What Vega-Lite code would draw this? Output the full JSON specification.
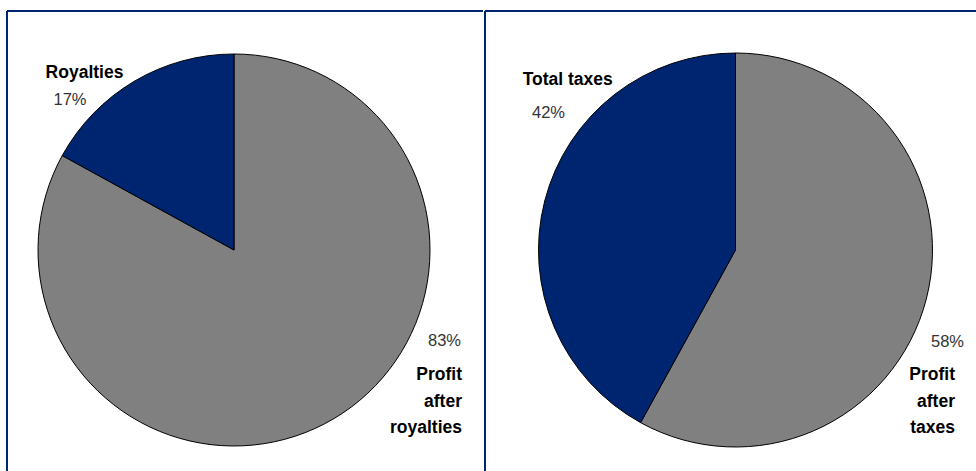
{
  "$schema": "https://vega.github.io/schema/vega-lite/v6.json",
  "padding": {"left": 6, "top": 10, "right": 0, "bottom": 0},
  "background": "white",
  "spacing": 0,
  "config": {
    "view": {"stroke": null},
    "text": {"font": "Liberation Sans"}
  },
  "datasets": {
    "royalties": [
      {"category": "Profit after royalties", "value": 0.83},
      {"category": "Royalties", "value": 0.17}
    ],
    "taxes": [
      {"category": "Profit after taxes", "value": 0.58},
      {"category": "Total taxes", "value": 0.42}
    ]
  },
  "resolve": {"scale": {"theta": "independent"}},
  "hconcat": [
    {
      "width": 476,
      "height": 460,
      "data": {"name": "royalties"},
      "layer": [
        {
          "mark": {"type": "arc", "outerRadius": 196, "stroke": "#000000", "strokeWidth": 1, "x": {"expr": "concat_0_width/2 - 11"}, "y": {"expr": "460/2 + 9"}},
          "encoding": {
            "theta": {"field": "value", "type": "quantitative", "stack": true},
            "order": {"field": "value", "sort": "descending"},
            "color": {
              "field": "category", "type": "nominal", "legend": null,
              "scale": {"domain": ["Profit after royalties", "Royalties", "Profit after taxes", "Total taxes"], "range": ["#808080", "#002570", "#808080", "#002570"]}
            }
          }
        },
        {
          "mark": {"type": "rule", "color": "#002570", "strokeWidth": 2},
          "encoding": {"y": {"value": 0}}
        },
        {
          "mark": {"type": "rule", "color": "#002570", "strokeWidth": 2},
          "encoding": {"x": {"value": 0}}
        },
        {
          "transform": [{"filter": "datum.category == 'Royalties'"}],
          "mark": {"type": "text", "align": "center", "baseline": "alphabetic", "fontSize": 17.5, "fontWeight": "bold", "color": "#000000", "dx": -160.5, "dy": -162.7},
          "encoding": {"text": {"field": "category"}}
        },
        {
          "transform": [{"filter": "datum.category == 'Royalties'"}],
          "mark": {"type": "text", "align": "center", "baseline": "alphabetic", "fontSize": 16.5, "color": "#333333", "dx": -175, "dy": -136},
          "encoding": {"text": {"field": "value", "type": "quantitative", "format": ".0%"}}
        },
        {
          "transform": [{"filter": "datum.category == 'Profit after royalties'"}],
          "mark": {"type": "text", "align": "right", "baseline": "alphabetic", "fontSize": 16.5, "color": "#333333", "dx": 216, "dy": 105},
          "encoding": {"text": {"field": "value", "type": "quantitative", "format": ".0%"}}
        },
        {
          "transform": [{"filter": "datum.category == 'Profit after royalties'"}],
          "mark": {"type": "text", "align": "right", "baseline": "alphabetic", "fontSize": 17.5, "fontWeight": "bold", "color": "#000000", "lineBreak": " ", "lineHeight": 26.5, "dx": 217, "dy": 139},
          "encoding": {"text": {"field": "category"}}
        }
      ]
    },
    {
      "width": 492,
      "height": 460,
      "data": {"name": "taxes"},
      "layer": [
        {
          "mark": {"type": "arc", "outerRadius": 197, "stroke": "#000000", "strokeWidth": 1, "x": {"expr": "concat_1_width/2 + 4.5"}, "y": {"expr": "460/2 + 9"}},
          "encoding": {
            "theta": {"field": "value", "type": "quantitative", "stack": true},
            "order": {"field": "value", "sort": "descending"},
            "color": {
              "field": "category", "type": "nominal", "legend": null,
              "scale": {"domain": ["Profit after royalties", "Royalties", "Profit after taxes", "Total taxes"], "range": ["#808080", "#002570", "#808080", "#002570"]}
            }
          }
        },
        {
          "mark": {"type": "rule", "color": "#002570", "strokeWidth": 2},
          "encoding": {"y": {"value": 0}}
        },
        {
          "mark": {"type": "rule", "color": "#002570", "strokeWidth": 2},
          "encoding": {"x": {"value": 0}}
        },
        {
          "transform": [{"filter": "datum.category == 'Total taxes'"}],
          "mark": {"type": "text", "align": "center", "baseline": "alphabetic", "fontSize": 17.5, "fontWeight": "bold", "color": "#000000", "dx": -163.3, "dy": -156},
          "encoding": {"text": {"field": "category"}}
        },
        {
          "transform": [{"filter": "datum.category == 'Total taxes'"}],
          "mark": {"type": "text", "align": "center", "baseline": "alphabetic", "fontSize": 16.5, "color": "#333333", "dx": -182.5, "dy": -122.7},
          "encoding": {"text": {"field": "value", "type": "quantitative", "format": ".0%"}}
        },
        {
          "transform": [{"filter": "datum.category == 'Profit after taxes'"}],
          "mark": {"type": "text", "align": "right", "baseline": "alphabetic", "fontSize": 16.5, "color": "#333333", "dx": 233, "dy": 106},
          "encoding": {"text": {"field": "value", "type": "quantitative", "format": ".0%"}}
        },
        {
          "transform": [{"filter": "datum.category == 'Profit after taxes'"}],
          "mark": {"type": "text", "align": "right", "baseline": "alphabetic", "fontSize": 17.5, "fontWeight": "bold", "color": "#000000", "lineBreak": " ", "lineHeight": 26.5, "dx": 224, "dy": 139},
          "encoding": {"text": {"field": "category"}}
        }
      ]
    }
  ]
}
